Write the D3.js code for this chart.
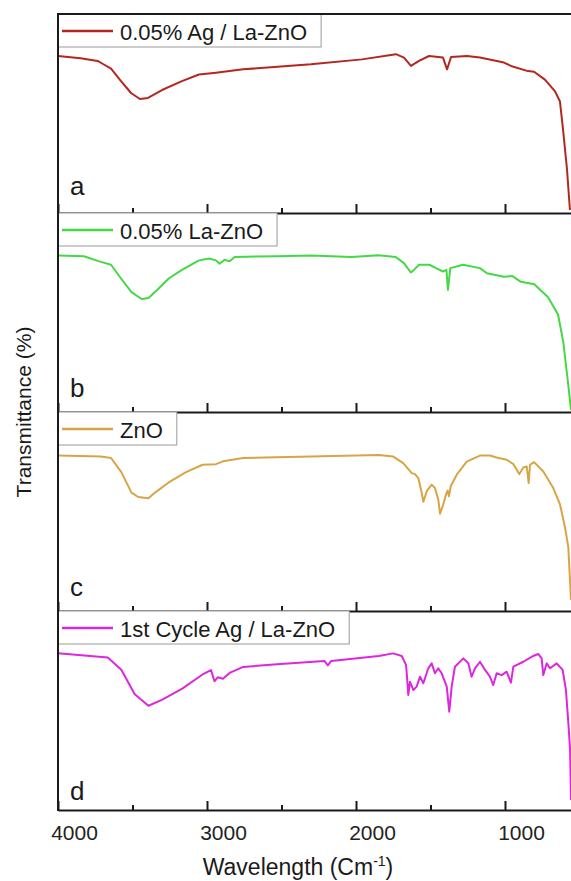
<!DOCTYPE html>
<html>
<head>
<meta charset="utf-8">
<script src="https://cdn.jsdelivr.net/npm/d3@7"></script>
<style>
  body { margin: 0; background: #fff; }
  svg { display: block; font-family: "Liberation Sans", Arial, sans-serif; }
</style>
</head>
<body>
<div id="chart"></div>
<script>
// FTIR spectra, wavenumber (cm-1) vs transmittance (%)
const sampleNames = ['0.05% Ag / La-ZnO', '0.05% La-ZnO', 'ZnO', '1st Cycle Ag / La-ZnO'];
const panelLetters = ['a', 'b', 'c', 'd'];

const agLaZnO = [
  [4000, 78.9], [3848, 77.8], [3734, 76.4], [3701, 75.0], [3644, 72.5], [3577, 66.3],
  [3510, 60.3], [3450, 57.3], [3396, 57.8], [3302, 61.8], [3168, 66.3], [3054, 69.6],
  [2940, 70.5], [2758, 72.2], [2302, 74.7], [1960, 77.2], [1732, 79.8], [1678, 78.1],
  [1631, 73.9], [1577, 76.4], [1510, 78.9], [1416, 78.1], [1389, 72.2], [1362, 78.4],
  [1255, 78.9], [1168, 78.1], [1007, 75.6], [960, 73.9], [846, 71.3], [805, 71.0],
  [732, 67.0], [664, 61.1], [631, 56.0], [611, 42.4], [584, 22.1], [564, 1.5]
];

const laZnO = [
  [4000, 78.6], [3826, 78.3], [3723, 75.7], [3644, 74.0], [3577, 67.1], [3507, 60.2],
  [3439, 56.8], [3393, 57.3], [3326, 61.9], [3257, 67.1], [3168, 71.4], [3054, 76.2],
  [2985, 77.1], [2940, 76.2], [2916, 74.5], [2882, 76.5], [2848, 75.7], [2814, 77.9],
  [2530, 78.3], [2302, 78.6], [2030, 77.9], [1848, 78.8], [1734, 77.9], [1678, 74.8],
  [1632, 70.1], [1611, 71.4], [1577, 74.0], [1507, 74.0], [1463, 72.3], [1416, 70.6],
  [1393, 71.4], [1383, 61.4], [1367, 72.3], [1282, 74.0], [1168, 72.3], [1121, 69.7],
  [1007, 68.0], [950, 68.3], [893, 65.4], [803, 64.2], [711, 57.7], [644, 49.0],
  [609, 35.3], [577, 14.7], [557, 1.0]
];

const znO = [
  [4000, 78.1], [3711, 77.6], [3644, 76.9], [3575, 69.8], [3507, 59.5], [3462, 57.3],
  [3393, 56.7], [3349, 59.5], [3257, 64.6], [3144, 69.7], [3030, 73.5], [2940, 73.8],
  [2893, 75.2], [2757, 76.9], [2302, 77.7], [1848, 78.4], [1750, 77.6], [1683, 74.3],
  [1626, 69.3], [1604, 68.8], [1582, 66.8], [1559, 59.4], [1548, 54.9], [1525, 60.2],
  [1492, 63.5], [1470, 61.8], [1448, 56.1], [1436, 48.9], [1414, 53.6], [1396, 58.6],
  [1385, 60.5], [1376, 57.7], [1364, 62.7], [1324, 68.5], [1257, 75.1], [1168, 78.1],
  [1101, 78.1], [1056, 77.1], [989, 76.0], [944, 73.8], [904, 68.8], [877, 72.1],
  [854, 72.6], [841, 64.3], [832, 73.5], [805, 74.8], [743, 70.1], [676, 61.8],
  [631, 53.6], [597, 41.9], [575, 32.0], [557, 5.5]
];

const cycleAgLaZnO = [
  [4000, 78.8], [3666, 76.6], [3575, 70.5], [3485, 58.2], [3393, 52.4], [3303, 55.3],
  [3166, 61.0], [3030, 68.1], [2973, 70.3], [2950, 64.7], [2928, 66.7], [2893, 66.0],
  [2848, 68.9], [2757, 71.9], [2530, 73.2], [2212, 74.9], [2189, 72.7], [2166, 74.9],
  [1848, 77.4], [1750, 78.7], [1693, 77.4], [1664, 72.9], [1656, 65.3], [1649, 57.8],
  [1638, 64.5], [1615, 60.3], [1593, 62.0], [1570, 67.0], [1548, 63.7], [1515, 71.2],
  [1492, 73.7], [1470, 68.7], [1448, 71.2], [1425, 68.7], [1391, 62.0], [1374, 49.4],
  [1358, 62.0], [1336, 72.0], [1280, 76.2], [1246, 73.7], [1224, 67.0], [1201, 71.2],
  [1168, 74.5], [1134, 70.4], [1101, 67.0], [1079, 62.8], [1056, 68.7], [1022, 67.8],
  [989, 69.5], [960, 64.0], [944, 72.0], [877, 74.5], [810, 77.4], [777, 78.4],
  [754, 76.2], [743, 67.8], [720, 73.7], [698, 71.2], [653, 73.7], [613, 70.4],
  [591, 60.3], [573, 41.9], [563, 30.2], [557, 5.0]
];

const spectra = [agLaZnO, laZnO, znO, cycleAgLaZnO];
const majorTicks = [4000, 3000, 2000, 1000];
const minorTicks = [3500, 2500, 1500];

const lineColors = ['#b3271f', '#45d845', '#d8a546', '#dc28dc'];

const W = 571, H = 881;
const plotLeft = 58, plotRight = 571, plotTop = 14, plotBottom = 810;
const panelH = (plotBottom - plotTop) / spectra.length;
const labelDy = [18, 15, 15, 10];

const svg = d3.select('#chart').append('svg')
  .attr('width', W)
  .attr('height', H);

svg.append('rect').attr('width', W).attr('height', H).attr('fill', '#fff');

const x = d3.scaleLinear().domain([4000, 557]).range([plotLeft, plotRight]);

spectra.forEach((series, i) => {
  const py0 = plotTop + i * panelH;
  const py1 = py0 + panelH;
  const y = d3.scaleLinear().domain([0, 100]).range([py1, py0]);
  const g = svg.append('g');

  const line = d3.line()
    .x(d => x(d[0]))
    .y(d => y(d[1]));

  g.append('path')
    .datum(series)
    .attr('fill', 'none')
    .attr('stroke', lineColors[i])
    .attr('stroke-width', 2)
    .attr('stroke-linejoin', 'round')
    .attr('d', line);

  // bottom axis of each panel, ticks pointing inward
  const axis = g.append('g')
    .attr('transform', `translate(0,${py1})`)
    .call(d3.axisBottom(x).tickValues(majorTicks).tickFormat(d3.format('d'))
      .tickSize(-9).tickSizeOuter(0));
  axis.select('.domain').attr('stroke', '#1a1a1a').attr('stroke-width', 2);
  axis.selectAll('.tick line').attr('stroke', '#1a1a1a').attr('stroke-width', 2);
  if (i === spectra.length - 1) {
    // labels in the figure sit a little right of their ticks
    axis.selectAll('.tick text')
      .attr('y', 30)
      .attr('dy', 0)
      .attr('dx', 16)
      .attr('font-size', 21)
      .attr('font-family', '"Liberation Sans", Arial, sans-serif')
      .attr('fill', '#222');
  } else {
    axis.selectAll('.tick text').remove();
  }

  g.append('g')
    .attr('transform', `translate(0,${py1})`)
    .call(d3.axisBottom(x).tickValues(minorTicks).tickSize(-5).tickFormat(''))
    .call(s => s.select('.domain').remove())
    .selectAll('.tick line').attr('stroke', '#1a1a1a').attr('stroke-width', 2);

  // legend box
  const leg = g.append('g');
  const box = leg.append('rect')
    .attr('x', plotLeft)
    .attr('y', py0)
    .attr('height', 33)
    .attr('fill', '#fff')
    .attr('stroke', '#9a9a9a')
    .attr('stroke-width', 1);
  leg.append('line')
    .attr('x1', 62).attr('x2', 113)
    .attr('y1', py0 + 17).attr('y2', py0 + 17)
    .attr('stroke', lineColors[i])
    .attr('stroke-width', 2.5);
  const txt = leg.append('text')
    .attr('x', 120)
    .attr('y', py0 + 26)
    .attr('font-size', 22)
    .attr('fill', '#1a1a1a')
    .text(sampleNames[i]);
  box.attr('width', 120 + txt.node().getComputedTextLength() + 14 - plotLeft);

  g.append('text')
    .attr('x', 70)
    .attr('y', py1 - labelDy[i])
    .attr('font-size', 26)
    .attr('fill', '#1a1a1a')
    .text(panelLetters[i]);
});

// outer frame: left and top edges
svg.append('line')
  .attr('x1', plotLeft).attr('x2', plotLeft)
  .attr('y1', plotTop - 1).attr('y2', plotBottom + 1)
  .attr('stroke', '#1a1a1a').attr('stroke-width', 2);
svg.append('line')
  .attr('x1', plotLeft).attr('x2', plotRight)
  .attr('y1', plotTop).attr('y2', plotTop)
  .attr('stroke', '#1a1a1a').attr('stroke-width', 2);

svg.append('text')
  .attr('transform', `translate(31,${(plotTop + plotBottom) / 2}) rotate(-90)`)
  .attr('text-anchor', 'middle')
  .attr('font-size', 21)
  .attr('fill', '#1a1a1a')
  .text('Transmittance (%)');

const xTitle = svg.append('text')
  .attr('x', 298)
  .attr('y', 875)
  .attr('text-anchor', 'middle')
  .attr('font-size', 23)
  .attr('fill', '#1a1a1a');
xTitle.append('tspan').text('Wavelength (Cm');
xTitle.append('tspan').attr('dy', -9).attr('font-size', 14).text('-1');
xTitle.append('tspan').attr('dy', 9).text(')');
</script>
</body>
</html>
